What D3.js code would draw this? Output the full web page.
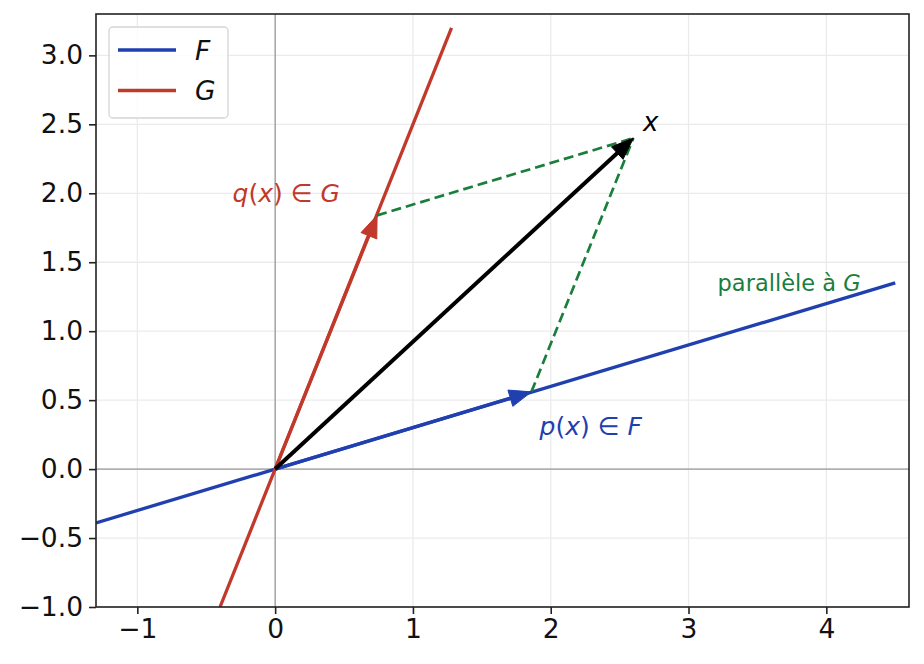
<!DOCTYPE html>
<html>
<head>
<meta charset="utf-8">
<script src="https://cdn.jsdelivr.net/npm/d3@7"></script>
<style>
  body { margin: 0; background: #fff; }
  text { font-family: "DejaVu Sans", sans-serif; }
</style>
</head>
<body>
<script>
// subspaces and vectors
const fLine = [[-1.3, -0.39], [4.5, 1.35]];
const gLine = [[-0.4, -1.0], [1.28, 3.2]];
const origin = [0, 0];
const xVec = [2.6, 2.4];
const pVec = [1.86, 0.56];
const qVec = [0.74, 1.84];

const xTicks = [-1, 0, 1, 2, 3, 4];
const yTicks = [-1.0, -0.5, 0.0, 0.5, 1.0, 1.5, 2.0, 2.5, 3.0];

const colF = "#2040b0", colG = "#c0392b", colPar = "#1a7f3c";

var margin = {top: 14, right: 15, bottom: 57, left: 96},
    width = 924 - margin.left - margin.right,
    height = 664 - margin.top - margin.bottom;

var svg = d3.select("body").append("svg")
    .attr("width", 924)
    .attr("height", 664);
var g = svg.append("g")
    .attr("transform", "translate(" + margin.left + "," + margin.top + ")");

var x = d3.scaleLinear().domain([-1.3, 4.6]).range([0, width]);
var y = d3.scaleLinear().domain([-1.0, 3.3]).range([height, 0]);

g.append("defs").append("clipPath").attr("id", "clip")
  .append("rect").attr("width", width).attr("height", height);

// grid
g.append("g").selectAll("line").data(xTicks).join("line")
  .attr("x1", d => x(d)).attr("x2", d => x(d))
  .attr("y1", 0).attr("y2", height)
  .attr("stroke", "#ebebeb").attr("stroke-width", 1.3);
g.append("g").selectAll("line").data(yTicks).join("line")
  .attr("y1", d => y(d)).attr("y2", d => y(d))
  .attr("x1", 0).attr("x2", width)
  .attr("stroke", "#ebebeb").attr("stroke-width", 1.3);

// zero lines
g.append("line").attr("x1", x(0)).attr("x2", x(0)).attr("y1", 0).attr("y2", height)
  .attr("stroke", "#808080").attr("stroke-width", 1);
g.append("line").attr("x1", 0).attr("x2", width).attr("y1", y(0)).attr("y2", y(0))
  .attr("stroke", "#808080").attr("stroke-width", 1);

var plot = g.append("g").attr("clip-path", "url(#clip)");
var line = d3.line().x(d => x(d[0])).y(d => y(d[1]));

plot.append("path").datum(fLine).attr("d", line)
  .attr("stroke", colF).attr("stroke-width", 3.3).attr("fill", "none");
plot.append("path").datum(gLine).attr("d", line)
  .attr("stroke", colG).attr("stroke-width", 3.3).attr("fill", "none");

// dashed parallels
[[qVec, xVec], [pVec, xVec]].forEach(function(seg) {
  plot.append("path").datum(seg).attr("d", line)
    .attr("stroke", colPar).attr("stroke-width", 2.7)
    .attr("stroke-dasharray", "10,5").attr("fill", "none");
});

// arrows: shaft stops at head base, filled head at the tip
function arrow(from, to, color, lw) {
  var x0 = x(from[0]), y0 = y(from[1]), x1 = x(to[0]), y1 = y(to[1]);
  var dx = x1 - x0, dy = y1 - y0, L = Math.sqrt(dx * dx + dy * dy);
  var ux = dx / L, uy = dy / L, hl = 22, hw = 8.5;
  var bx = x1 - ux * hl, by = y1 - uy * hl;
  plot.append("line")
    .attr("x1", x0).attr("y1", y0).attr("x2", bx + ux * 2).attr("y2", by + uy * 2)
    .attr("stroke", color).attr("stroke-width", lw);
  plot.append("path")
    .attr("d", "M" + x1 + "," + y1 +
               "L" + (bx - uy * hw) + "," + (by + ux * hw) +
               "L" + (bx + uy * hw) + "," + (by - ux * hw) + "Z")
    .attr("fill", color).attr("stroke", color).attr("stroke-width", 1)
    .attr("stroke-linejoin", "miter");
}
arrow(origin, pVec, colF, 3.3);
arrow(origin, qVec, colG, 3.3);
arrow(origin, xVec, "#000", 4);

// labels
function mathLabel(pos, parts, color, size, anchor) {
  var t = g.append("text")
    .attr("x", x(pos[0])).attr("y", y(pos[1]))
    .attr("text-anchor", anchor).attr("dominant-baseline", "central")
    .attr("fill", color).attr("font-size", size);
  parts.forEach(function(p) {
    t.append("tspan").text(p[0]).attr("font-style", p[1] ? "italic" : "normal");
  });
}
mathLabel([2.67, 2.52], [["x", 1]], "#000", 26, "start");
mathLabel([0.08, 2.0], [["q", 1], ["(", 0], ["x", 1], [")", 0], [" \u2208 ", 0], ["G", 1]], colG, 25, "middle");
mathLabel([2.29, 0.31], [["p", 1], ["(", 0], ["x", 1], [")", 0], [" \u2208 ", 0], ["F", 1]], colF, 25, "middle");
mathLabel([3.73, 1.35], [["parallèle à ", 0], ["G", 1]], colPar, 22.5, "middle");

// axes
var xAxis = g.append("g").attr("transform", "translate(0," + height + ")")
  .call(d3.axisBottom(x).tickValues(xTicks).tickSize(7).tickPadding(5)
    .tickFormat(d => d3.format("d")(d).replace("-", "\u2212")));
var yAxis = g.append("g")
  .call(d3.axisLeft(y).tickValues(yTicks).tickSize(7).tickPadding(6)
    .tickFormat(d => d3.format(".1f")(d).replace("-", "\u2212")));
[xAxis, yAxis].forEach(function(a) {
  a.select(".domain").remove();
  a.selectAll("line").attr("stroke", "#222").attr("stroke-width", 1.6);
  a.selectAll("text").attr("font-size", 26.5).attr("fill", "#111")
    .attr("font-family", "DejaVu Sans, sans-serif");
});
g.append("rect").attr("width", width).attr("height", height)
  .attr("fill", "none").attr("stroke", "#222").attr("stroke-width", 1.6);

// legend
var leg = g.append("g").attr("transform", "translate(13,13)");
leg.append("rect").attr("width", 119).attr("height", 91).attr("rx", 4)
  .attr("fill", "#fff").attr("fill-opacity", 0.85)
  .attr("stroke", "#d5d5d5").attr("stroke-width", 1.3);
[["F", colF], ["G", colG]].forEach(function(d, i) {
  var yy = 23 + i * 40.5;
  leg.append("line").attr("x1", 9).attr("x2", 67).attr("y1", yy).attr("y2", yy)
    .attr("stroke", d[1]).attr("stroke-width", 3.3);
  leg.append("text").attr("x", 86).attr("y", yy).attr("dominant-baseline", "central")
    .attr("font-size", 26.5).attr("font-style", "italic").attr("fill", "#111").text(d[0]);
});
</script>
</body>
</html>
